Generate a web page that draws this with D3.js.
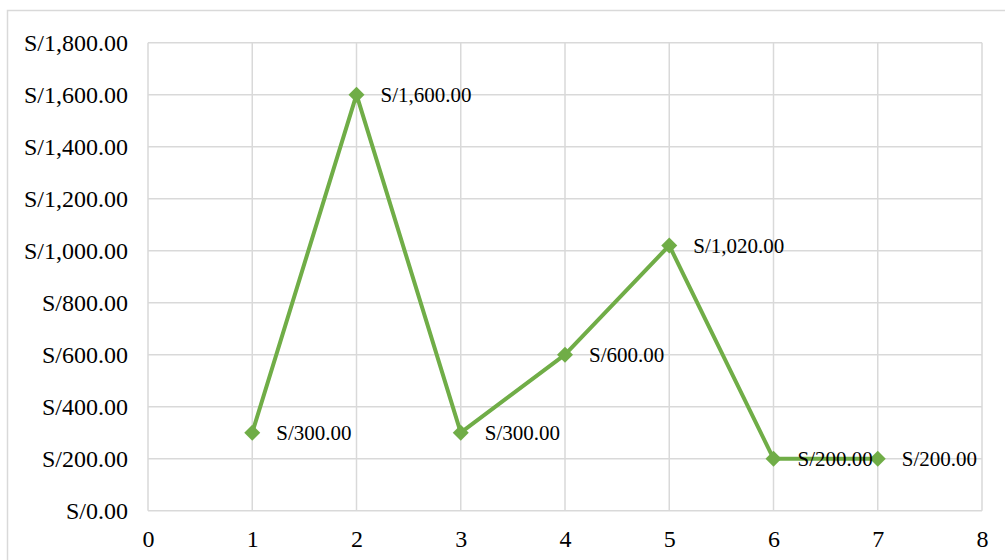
<!DOCTYPE html>
<html><head><meta charset="utf-8">
<script src="https://cdn.jsdelivr.net/npm/d3@7"></script>
<style>html,body{margin:0;padding:0;background:#fff;}svg{display:block;}</style>
</head><body>
<svg id="c" width="1005" height="560"></svg>
<script>
const xValues = [1, 2, 3, 4, 5, 6, 7];
const yValues = [300, 1600, 300, 600, 1020, 200, 200];
const xTicks = [0, 1, 2, 3, 4, 5, 6, 7, 8];
const yTicks = [0, 200, 400, 600, 800, 1000, 1200, 1400, 1600, 1800];

(function () {
const svg = d3.select("#c");
const pLeft = 148, pRight = 982, pTop = 42.7, pBottom = 510.7;
const x = d3.scaleLinear().domain([0, 8]).range([pLeft, pRight]);
const y = d3.scaleLinear().domain([0, 1800]).range([pBottom, pTop]);
const fmt = v => "S/" + d3.format(",.2f")(v);
const font = "'Liberation Serif', 'Times New Roman', serif";

// outer border
svg.append("rect").attr("x", 7.5).attr("y", 10.5).attr("width", 1010).attr("height", 560)
  .attr("fill", "none").attr("stroke", "#d9d9d9").attr("stroke-width", 1.5);

// gridlines
svg.append("g").selectAll("line").data(yTicks).join("line")
  .attr("x1", pLeft).attr("x2", pRight).attr("y1", d => y(d)).attr("y2", d => y(d))
  .attr("stroke", "#d9d9d9").attr("stroke-width", 1.5);
svg.append("g").selectAll("line").data(xTicks).join("line")
  .attr("x1", d => x(d)).attr("x2", d => x(d)).attr("y1", pTop).attr("y2", pBottom)
  .attr("stroke", "#d9d9d9").attr("stroke-width", 1.5);

// axes (labels only)
const yAxis = d3.axisLeft(y).tickValues(yTicks).tickFormat(fmt).tickSize(0).tickPadding(20);
const gy = svg.append("g").attr("transform", `translate(${pLeft},0)`).call(yAxis);
gy.select(".domain").remove();
gy.selectAll("text").attr("font-family", font).attr("font-size", 24).attr("fill", "#000");

const xAxis = d3.axisBottom(x).tickValues(xTicks).tickFormat(d3.format("d")).tickSize(0).tickPadding(19);
const gx = svg.append("g").attr("transform", `translate(0,${pBottom})`).call(xAxis);
gx.select(".domain").remove();
gx.selectAll("text").attr("font-family", font).attr("font-size", 24).attr("fill", "#000");

// line
const data = xValues.map((d, i) => ({x: d, y: yValues[i]}));
svg.append("path").datum(data)
  .attr("d", d3.line().x(d => x(d.x)).y(d => y(d.y)))
  .attr("fill", "none").attr("stroke", "#70ad47").attr("stroke-width", 4).attr("stroke-linejoin", "round");

// markers
svg.append("g").selectAll("path").data(data).join("path")
  .attr("transform", d => `translate(${x(d.x)},${y(d.y)})`)
  .attr("d", "M0,-8L8,0L0,8L-8,0Z").attr("fill", "#70ad47");

// data labels
svg.append("g").selectAll("text").data(data).join("text")
  .attr("x", d => x(d.x) + 24).attr("y", d => y(d.y)).attr("dy", "0.35em")
  .attr("font-family", font).attr("font-size", 21).attr("fill", "#000")
  .text(d => fmt(d.y));
})();
</script>
</body></html>
